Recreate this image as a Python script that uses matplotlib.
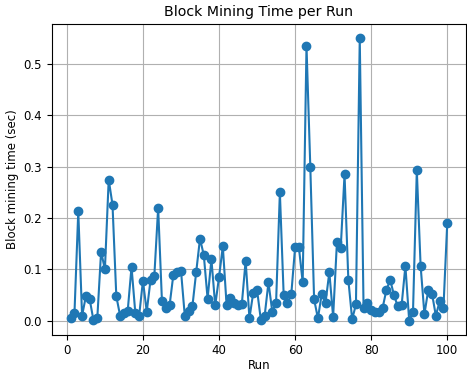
import matplotlib
matplotlib.use("Agg")
import matplotlib.pyplot as plt

runs = list(range(1, 101))
times = [0.005, 0.015, 0.213, 0.010, 0.048, 0.042, 0.001, 0.005, 0.135, 0.100,
         0.275, 0.226, 0.048, 0.010, 0.015, 0.020, 0.105, 0.015, 0.010, 0.078,
         0.018, 0.080, 0.088, 0.220, 0.038, 0.025, 0.030, 0.090, 0.095, 0.098,
         0.010, 0.020, 0.028, 0.095, 0.160, 0.128, 0.043, 0.120, 0.030, 0.085,
         0.145, 0.030, 0.045, 0.035, 0.030, 0.033, 0.117, 0.005, 0.055, 0.060,
         0.002, 0.010, 0.075, 0.018, 0.035, 0.250, 0.050, 0.035, 0.052, 0.143,
         0.143, 0.075, 0.535, 0.300, 0.042, 0.005, 0.052, 0.035, 0.095, 0.008,
         0.153, 0.142, 0.285, 0.080, 0.003, 0.032, 0.550, 0.025, 0.035, 0.022,
         0.018, 0.018, 0.025, 0.060, 0.080, 0.050, 0.028, 0.030, 0.107, 0.000,
         0.018, 0.293, 0.107, 0.013, 0.060, 0.053, 0.010, 0.038, 0.025, 0.190]

plt.rcParams['font.size'] = 8.5
fig, ax = plt.subplots(figsize=(4.67, 3.71), dpi=100)
ax.plot(runs, times, marker='o', color='#1f77b4', markersize=6, linewidth=1.5)
ax.set_title('Block Mining Time per Run', fontsize=10.2)
ax.set_xlabel('Run', labelpad=1.5)
ax.set_ylabel('Block mining time (sec)', labelpad=3)
ax.tick_params(axis='x', pad=3)
ax.grid(True)
fig.subplots_adjust(left=0.111, right=0.998, bottom=0.097, top=0.935)
fig.savefig('out.png', dpi=100)
